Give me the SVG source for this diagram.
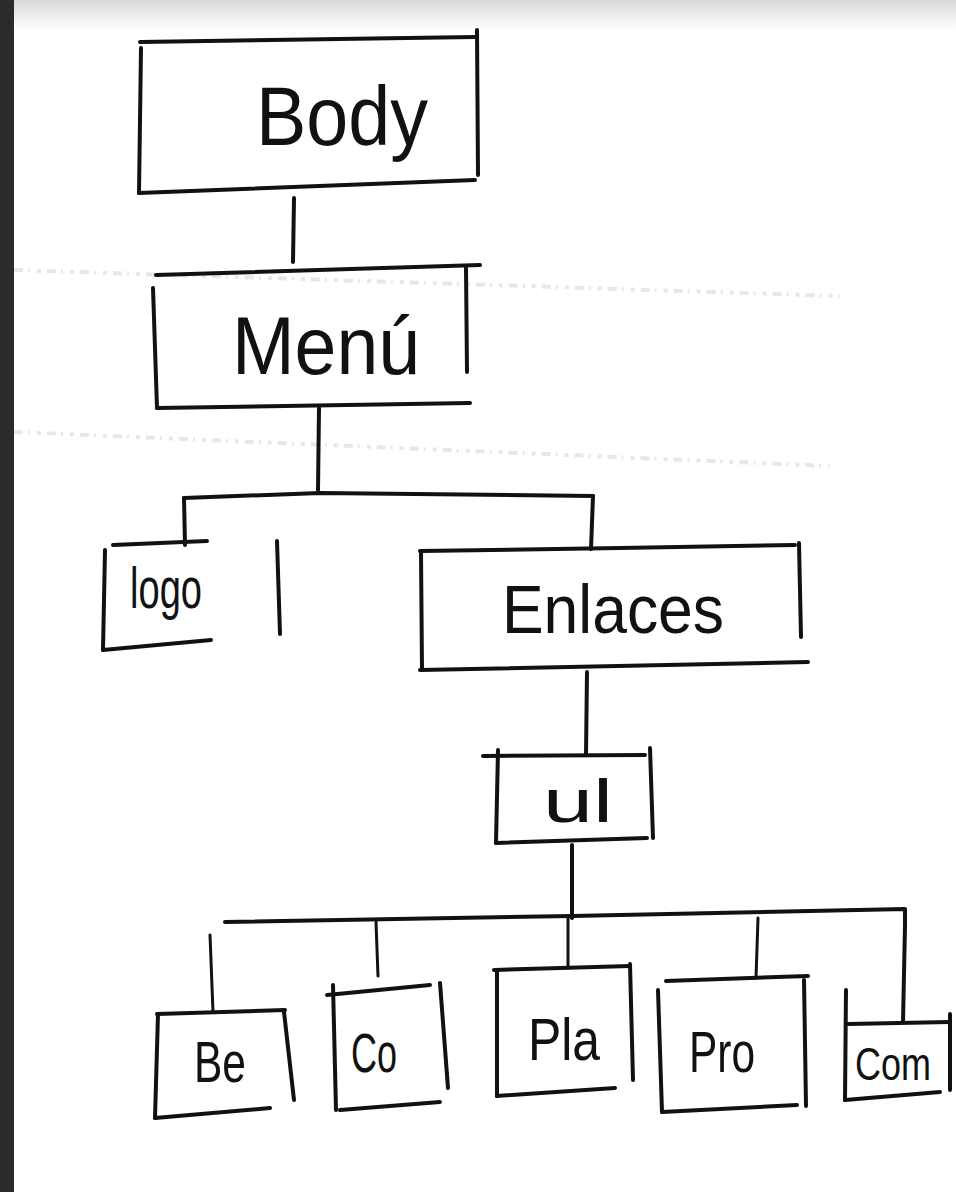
<svg xmlns="http://www.w3.org/2000/svg" width="956" height="1192" viewBox="0 0 956 1192">
<defs>
<linearGradient id="topfade" x1="0" y1="0" x2="0" y2="1">
<stop offset="0" stop-color="#d9d9d9"/>
<stop offset="1" stop-color="#ffffff"/>
</linearGradient>
<style>
.ink{fill:none;stroke:#111;stroke-width:4;stroke-linecap:round;stroke-linejoin:round}
.thin{stroke-width:3}
.lbl{font-family:"Liberation Sans","DejaVu Sans",sans-serif;fill:#111;text-anchor:middle}
.smudge{fill:none;stroke:#d4d4d4;stroke-width:4;stroke-dasharray:9 5 2 7 4 6;opacity:0.55}
</style>
</defs>
<rect width="956" height="1192" fill="#ffffff"/>
<rect width="956" height="30" fill="url(#topfade)"/>
<path class="smudge" d="M14 270 L840 296"/>
<path class="smudge" d="M14 432 L830 466"/>
<rect x="0" y="0" width="14" height="1192" fill="#2b2b2b"/>

<g id="connectors">
<path class="ink" d="M294 198 L293 262"/>
<path class="ink" d="M319 408 L318 490"/>
<path class="ink" d="M184 498 L320 493 L593 496"/>
<path class="ink" d="M184 498 L185 545"/>
<path class="ink" d="M593 496 L591 549"/>
<path class="ink" d="M587 672 L586 755"/>
<path class="ink" d="M572 845 L572 918"/>
<path class="ink" d="M225 922 L572 916 L905 909 L905 925"/>
<path class="ink thin" d="M210 935 L213 1012"/>
<path class="ink thin" d="M376 922 L378 976"/>
<path class="ink thin" d="M568 918 L568 968"/>
<path class="ink thin" d="M758 918 L756 978"/>
<path class="ink" d="M905 925 L903 1022"/>
</g>

<g id="node-body">
<path class="ink" d="M140 42 L475 37"/>
<path class="ink" d="M141 48 L139 193"/>
<path class="ink" d="M139 193 L475 180"/>
<path class="ink" d="M477 30 L478 175"/>
<text class="lbl" x="342" y="145" font-size="84" textLength="172" lengthAdjust="spacingAndGlyphs">Body</text>
</g>

<g id="node-menu">
<path class="ink" d="M156 275 L480 265"/>
<path class="ink" d="M153 288 L157 408"/>
<path class="ink" d="M157 408 L470 403"/>
<path class="ink" d="M466 268 L467 372"/>
<text class="lbl" x="326" y="374" font-size="82" textLength="188" lengthAdjust="spacingAndGlyphs">Menú</text>
</g>

<g id="node-logo">
<path class="ink" d="M113 545 L207 541"/>
<path class="ink" d="M105 550 L103 650"/>
<path class="ink" d="M103 650 L211 640"/>
<path class="ink" d="M277 541 L280 634"/>
<text class="lbl" x="166" y="608" font-size="58" textLength="72" lengthAdjust="spacingAndGlyphs">logo</text>
</g>

<g id="node-enlaces">
<path class="ink" d="M420 551 L620 548 L795 545"/>
<path class="ink" d="M421 553 L422 670"/>
<path class="ink" d="M420 670 L808 662"/>
<path class="ink" d="M799 543 L801 637"/>
<text class="lbl" x="613" y="633" font-size="68" textLength="222" lengthAdjust="spacingAndGlyphs">Enlaces</text>
</g>

<g id="node-ul">
<path class="ink" d="M483 756 L645 755"/>
<path class="ink" d="M498 750 L496 843"/>
<path class="ink" d="M496 843 L647 838"/>
<path class="ink" d="M650 748 L653 838"/>
<text class="lbl" x="578" y="822" font-size="62" textLength="70" lengthAdjust="spacingAndGlyphs">ul</text>
</g>

<g id="node-be">
<path class="ink" d="M157 1014 L285 1010"/>
<path class="ink" d="M158 1014 L155 1118"/>
<path class="ink" d="M155 1118 L270 1108"/>
<path class="ink" d="M284 1012 L294 1100"/>
<text class="lbl" x="220" y="1082" font-size="58" textLength="52" lengthAdjust="spacingAndGlyphs">Be</text>
</g>

<g id="node-co">
<path class="ink" d="M327 995 L430 985"/>
<path class="ink" d="M333 985 L336 1110"/>
<path class="ink" d="M340 1110 L440 1102"/>
<path class="ink" d="M440 983 L448 1088"/>
<text class="lbl" x="374" y="1072" font-size="56" textLength="46" lengthAdjust="spacingAndGlyphs">Co</text>
</g>

<g id="node-pla">
<path class="ink" d="M494 970 L630 966"/>
<path class="ink" d="M497 970 L497 1096"/>
<path class="ink" d="M497 1096 L615 1088"/>
<path class="ink" d="M630 964 L633 1080"/>
<text class="lbl" x="564" y="1060" font-size="60" textLength="72" lengthAdjust="spacingAndGlyphs">Pla</text>
</g>

<g id="node-pro">
<path class="ink" d="M666 981 L808 976"/>
<path class="ink" d="M658 990 L662 1112"/>
<path class="ink" d="M662 1112 L797 1105"/>
<path class="ink" d="M804 980 L806 1106"/>
<text class="lbl" x="722" y="1072" font-size="58" textLength="66" lengthAdjust="spacingAndGlyphs">Pro</text>
</g>

<g id="node-com">
<path class="ink" d="M848 1024 L950 1022"/>
<path class="ink" d="M846 990 L845 1100"/>
<path class="ink" d="M845 1100 L940 1092"/>
<path class="ink" d="M950 1014 L950 1090"/>
<text class="lbl" x="893" y="1080" font-size="46" textLength="76" lengthAdjust="spacingAndGlyphs">Com</text>
</g>
</svg>
